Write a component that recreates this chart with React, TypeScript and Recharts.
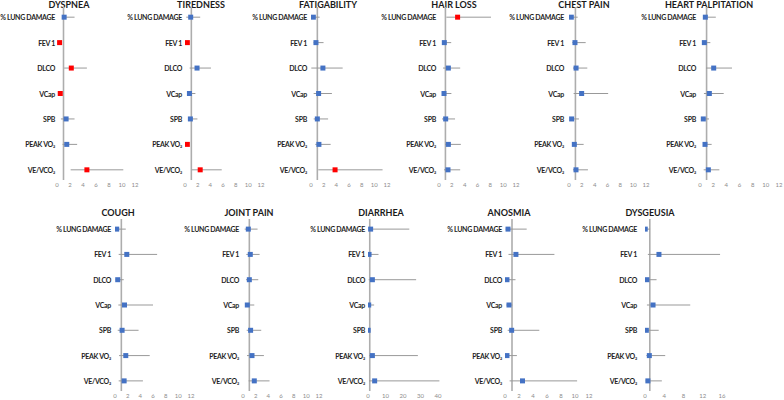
import { ScatterChart, Scatter, XAxis, YAxis, ErrorBar, ReferenceLine } from 'recharts';

// outcome rows, top to bottom
const measures = ['% LUNG DAMAGE', 'FEV 1', 'DLCO', 'VCap', 'SPB', 'PEAK VO₂', 'VE/VCO₂'];

// x tick labels
const ticksTwelve = [0, 2, 4, 6, 8, 10, 12];
const ticksForty = [0, 10, 20, 30, 40];
const ticksSixteen = [0, 4, 8, 12, 16];

// odds ratio, lower CI, upper CI per symptom
const dyspneaOr = [1.1, 0.4, 2.2, 0.5, 1.4, 1.5, 4.6];
const dyspneaLow = [0.8, 0.3, 1.1, 0.4, 0.6, 0.85, 2.1];
const dyspneaHigh = [2.7, 0.5, 4.6, 0.6, 2.7, 3.1, 10.2];

const tirednessOr = [0.9, 0.37, 1.9, 0.7, 0.85, 0.37, 2.4];
const tirednessLow = [0.2, 0.3, 0.74, 0.37, 0.5, 0.3, 1.06];
const tirednessHigh = [2.4, 0.45, 4.1, 1.64, 1.96, 0.45, 5.8];

const fatigabilityOr = [0.37, 0.78, 1.88, 1.2, 1.0, 1.25, 3.8];
const fatigabilityLow = [0.16, 0.42, 0.05, 0.42, 0.42, 0.68, 1.15];
const fatigabilityHigh = [1.36, 1.98, 5.0, 3.3, 2.7, 3.1, 11.3];

const hairLossOr = [2.9, 0.83, 1.46, 0.78, 1.04, 1.46, 1.4];
const hairLossLow = [1.15, 0.5, 0.63, 0.47, 0.47, 0.95, 0.78];
const hairLossHigh = [8.1, 1.9, 3.3, 1.93, 2.5, 3.4, 3.3];

const chestPainOr = [0.36, 0.93, 1.1, 1.97, 0.41, 0.83, 1.09];
const chestPainLow = [0.2, 0.52, 0.62, 0.72, 0.2, 0.57, 0.62];
const chestPainHigh = [1.35, 2.6, 2.85, 6.1, 1.55, 2.28, 2.95];

const palpitationOr = [0.81, 0.66, 2.08, 1.42, 0.5, 0.76, 1.27];
const palpitationLow = [0.46, 0.4, 0.91, 0.6, 0.35, 0.46, 0.56];
const palpitationHigh = [2.4, 1.57, 4.86, 3.6, 1.37, 1.77, 2.94];

const coughOr = [0.27, 1.86, 0.43, 1.5, 1.12, 1.7, 1.44];
const coughLow = [0.05, 0.58, 0.1, 0.53, 0.43, 0.64, 0.58];
const coughHigh = [1.7, 6.65, 1.38, 6.0, 3.72, 5.48, 4.41];

const jointPainOr = [0.84, 1.15, 1.0, 0.68, 1.2, 1.42, 1.78];
const jointPainLow = [0.26, 0.52, 0.47, 0.37, 0.58, 0.63, 0.89];
const jointPainHigh = [2.3, 2.62, 2.41, 1.78, 2.88, 3.3, 4.19];

const diarrheaOr = [1.5, 0.6, 2.5, 0.4, 0.1, 2.5, 3.8];
const diarrheaLow = [0.4, 0.1, 0.4, 0.1, 0.02, 0.6, 0.6];
const diarrheaHigh = [23.6, 6.0, 27.5, 3.5, 1.2, 28.5, 40.8];

const anosmiaOr = [0.43, 1.56, 0.28, 0.57, 0.95, 0.28, 2.5];
const anosmiaLow = [0.1, 0.5, 0.1, 0.2, 0.38, 0.1, 0.66];
const anosmiaHigh = [3.1, 7.06, 1.5, 1.05, 4.9, 1.7, 10.3];

const dysgeusiaOr = [0.05, 2.9, 0.4, 1.67, 0.28, 0.9, 0.6];
const dysgeusiaLow = [0.01, 0.6, 0.14, 0.4, 0.02, 0.28, 0.14];
const dysgeusiaHigh = [1.05, 15.6, 2.4, 9.4, 2.85, 4.2, 3.5];

const BLUE = '#4472C4';
const RED = '#FF0000';
const FONT = 'Lato, "Open Sans", sans-serif';
const YW = 80;

const buildRows = (or: number[], low: number[], high: number[]) =>
  or.map((v, i) => ({
    y: i,
    x: v,
    err: [v - low[i], high[i] - v],
    sig: low[i] > 1 || high[i] < 1,
  }));

const Marker = (p: any) => {
  if (p.cx == null || p.cy == null) return null;
  return (
    <rect
      x={p.cx - 2.5}
      y={p.cy - 2.5}
      width={5}
      height={5}
      fill={p.payload && p.payload.sig ? RED : BLUE}
    />
  );
};

// plain svg text so the long labels never wrap
const MeasureTick = (p: any) => (
  <text
    x={p.x}
    y={p.y}
    textAnchor="end"
    dominantBaseline="central"
    fontSize={7}
    fontWeight={700}
    letterSpacing={-0.3}
    fill="#1f1f1f"
    fontFamily={FONT}
  >
    {measures[p.payload.value]}
  </text>
);

interface PanelProps {
  title: string;
  titleX: number;
  titleY: number;
  x0: number;
  xEnd: number;
  top: number;
  plotH: number;
  ticks: number[];
  or: number[];
  low: number[];
  high: number[];
  gap: number;
}

function Panel({ title, titleX, titleY, x0, xEnd, top, plotH, ticks, or, low, high, gap }: PanelProps) {
  const data = buildRows(or, low, high);
  const max = ticks[ticks.length - 1];
  const w = YW + (xEnd - x0) + 4;
  return (
    <>
      <div
        style={{
          position: 'absolute',
          left: titleX,
          top: titleY,
          transform: 'translateX(-50%)',
          fontFamily: FONT,
          fontWeight: 700,
          fontSize: 9,
          lineHeight: '10px',
          color: '#1a1a1a',
          whiteSpace: 'nowrap',
        }}
      >
        {title}
      </div>
      <div style={{ position: 'absolute', left: x0 - YW, top }}>
        <ScatterChart width={w} height={plotH + 14} margin={{ top: 0, right: 4, left: 0, bottom: 0 }}>
          <XAxis
            type="number"
            dataKey="x"
            domain={[0, max]}
            ticks={ticks}
            allowDataOverflow
            axisLine={false}
            tickLine={false}
            tickSize={0}
            tickMargin={3}
            height={14}
            interval={0}
            tick={{ fontSize: 6, fill: '#8c8c8c', fontFamily: FONT }}
          />
          <YAxis
            type="number"
            dataKey="y"
            domain={[-0.4, 6.4]}
            ticks={[0, 1, 2, 3, 4, 5, 6]}
            reversed
            allowDataOverflow
            width={YW}
            axisLine={false}
            tickLine={false}
            tickSize={0}
            tickMargin={gap}
            interval={0}
            tick={<MeasureTick />}
          />
          <ReferenceLine x={1} stroke="#adadad" strokeWidth={1.6} />
          <Scatter data={data} shape={Marker} isAnimationActive={false}>
            <ErrorBar dataKey="err" direction="x" width={0} stroke="#999999" strokeWidth={1} />
          </Scatter>
        </ScatterChart>
      </div>
    </>
  );
}

const TOP = { top: 7, plotH: 173, titleY: 0 };
const BOT = { top: 219, plotH: 172, titleY: 208 };

export default function App() {
  return (
    <div style={{ position: 'absolute', left: 0, top: 0, width: 784, height: 400, background: '#fff', overflow: 'hidden' }}>
      <Panel title="DYSPNEA" titleX={69} {...TOP} x0={57} xEnd={135} ticks={ticksTwelve} or={dyspneaOr} low={dyspneaLow} high={dyspneaHigh} gap={2} />
      <Panel title="TIREDNESS" titleX={201} {...TOP} x0={185} xEnd={261} ticks={ticksTwelve} or={tirednessOr} low={tirednessLow} high={tirednessHigh} gap={3} />
      <Panel title="FATIGABILITY" titleX={328} {...TOP} x0={311} xEnd={387} ticks={ticksTwelve} or={fatigabilityOr} low={fatigabilityLow} high={fatigabilityHigh} gap={4} />
      <Panel title="HAIR LOSS" titleX={454} {...TOP} x0={439} xEnd={516} ticks={ticksTwelve} or={hairLossOr} low={hairLossLow} high={hairLossHigh} gap={3} />
      <Panel title="CHEST PAIN" titleX={584} {...TOP} x0={569} xEnd={646} ticks={ticksTwelve} or={chestPainOr} low={chestPainLow} high={chestPainHigh} gap={5} />
      <Panel title="HEART PALPITATION" titleX={709} {...TOP} x0={700} xEnd={779} ticks={ticksTwelve} or={palpitationOr} low={palpitationLow} high={palpitationHigh} gap={4} />
      <Panel title="COUGH" titleX={118} {...BOT} x0={115} xEnd={191} ticks={ticksTwelve} or={coughOr} low={coughLow} high={coughHigh} gap={4} />
      <Panel title="JOINT PAIN" titleX={249} {...BOT} x0={243} xEnd={319} ticks={ticksTwelve} or={jointPainOr} low={jointPainLow} high={jointPainHigh} gap={4} />
      <Panel title="DIARRHEA" titleX={381} {...BOT} x0={368} xEnd={438} ticks={ticksForty} or={diarrheaOr} low={diarrheaLow} high={diarrheaHigh} gap={3} />
      <Panel title="ANOSMIA" titleX={509} {...BOT} x0={505} xEnd={589} ticks={ticksTwelve} or={anosmiaOr} low={anosmiaLow} high={anosmiaHigh} gap={3} />
      <Panel title="DYSGEUSIA" titleX={650} {...BOT} x0={645} xEnd={722} ticks={ticksSixteen} or={dysgeusiaOr} low={dysgeusiaLow} high={dysgeusiaHigh} gap={8} />
    </div>
  );
}
